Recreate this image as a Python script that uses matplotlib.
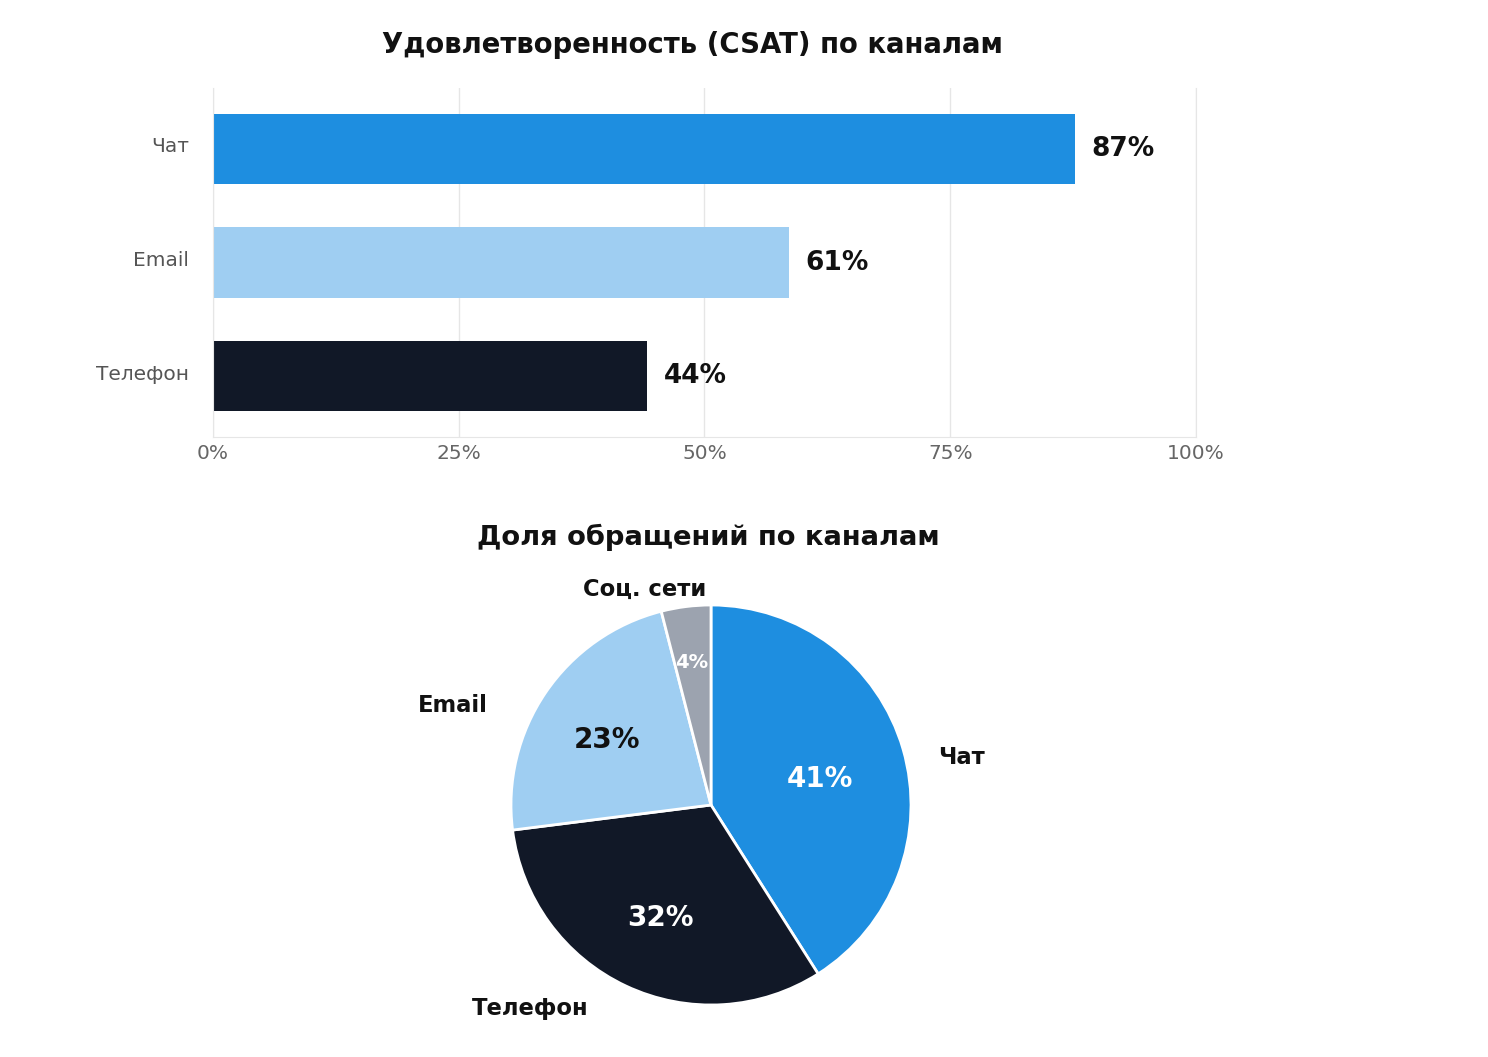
import matplotlib
matplotlib.use("Agg")
import matplotlib.pyplot as plt
import matplotlib.transforms as mtransforms

# --- data ---
channels = ["Чат", "Email", "Телефон"]
csat = [87.7, 58.6, 44.2]          # bar lengths as drawn
csat_labels = ["87%", "61%", "44%"]
bar_colors = ["#1E8EE0", "#9FCEF2", "#111827"]

pie_names = ["Чат", "Телефон", "Email", "Соц. сети"]
pie_share = [41, 32, 23, 4]
pie_colors = ["#1E8EE0", "#111827", "#9FCEF2", "#9CA3AF"]
pct_colors = ["white", "white", "#111111", "white"]
pct_sizes = [20, 20, 20, 14]
# label / percentage placement (data coords, pie radius = 1)
name_pos = [(1.255, 0.24), (-0.905, -1.015), (-1.29, 0.495), (-0.33, 1.08)]
pct_pos = [(0.545, 0.13), (-0.255, -0.565), (-0.52, 0.325), (-0.095, 0.715)]

fig = plt.figure(figsize=(14.88, 10.57), dpi=100)
fig.patch.set_facecolor("white")

# --- bar chart ---
ax = fig.add_axes([0.1431, 0.5866, 0.6607, 0.3301])
y = list(range(len(channels)))
ax.barh(y, csat, height=0.62, color=bar_colors, zorder=2)
ax.set_xlim(0, 100)
ax.set_ylim(2.535, -0.535)
ax.set_yticks(y)
ax.set_yticklabels(channels, fontsize=14.5, color="#555555")
ax.set_xticks([0, 25, 50, 75, 100])
ax.set_xticklabels(["0%", "25%", "50%", "75%", "100%"], fontsize=14.5, color="#666666")
ax.tick_params(axis="x", length=0, pad=5)
ax.tick_params(axis="y", length=0, pad=17)
# nudge category labels up a little
shift = mtransforms.ScaledTranslation(0, 4 / 100, fig.dpi_scale_trans)
for lab in ax.get_yticklabels():
    lab.set_transform(lab.get_transform() + shift)
ax.grid(axis="x", color="#E6E6E6", linewidth=1, zorder=0)
ax.spines["top"].set_visible(False)
for s in ["right", "left", "bottom"]:
    ax.spines[s].set_color("#E6E6E6")
for yi, v, lab in zip(y, csat, csat_labels):
    ax.text(v + 1.7, yi, lab, va="center", ha="left", fontsize=19,
            fontweight="bold", color="#111111")
fig.text(692 / 1488, 1 - 45 / 1057, "Удовлетворенность (CSAT) по каналам", ha="center",
         va="center", fontsize=19.8, fontweight="bold", color="#111111")

# --- pie chart ---
pax = fig.add_axes([451 / 1488, 1 - 1045 / 1057, 520 / 1488, 480 / 1057])
wedges, texts, autotexts = pax.pie(
    pie_share, labels=pie_names, colors=pie_colors, startangle=90,
    counterclock=False, autopct="%d%%",
    wedgeprops=dict(edgecolor="white", linewidth=2))
pax.set_xlim(-1.3, 1.3)
pax.set_ylim(-1.2, 1.2)
pax.set_aspect("equal")
for t, p in zip(texts, name_pos):
    t.set_position(p)
    t.set_ha("center")
    t.set_va("center")
    t.set_fontsize(16.3)
    t.set_fontweight("bold")
    t.set_color("#111111")
for t, p, c, s in zip(autotexts, pct_pos, pct_colors, pct_sizes):
    t.set_position(p)
    t.set_color(c)
    t.set_fontsize(s)
    t.set_fontweight("bold")
fig.text(708 / 1488, 1 - 537 / 1057, "Доля обращений по каналам", ha="center",
         va="center", fontsize=19.7, fontweight="bold", color="#111111")

fig.savefig("out.png", dpi=100, facecolor="white")
